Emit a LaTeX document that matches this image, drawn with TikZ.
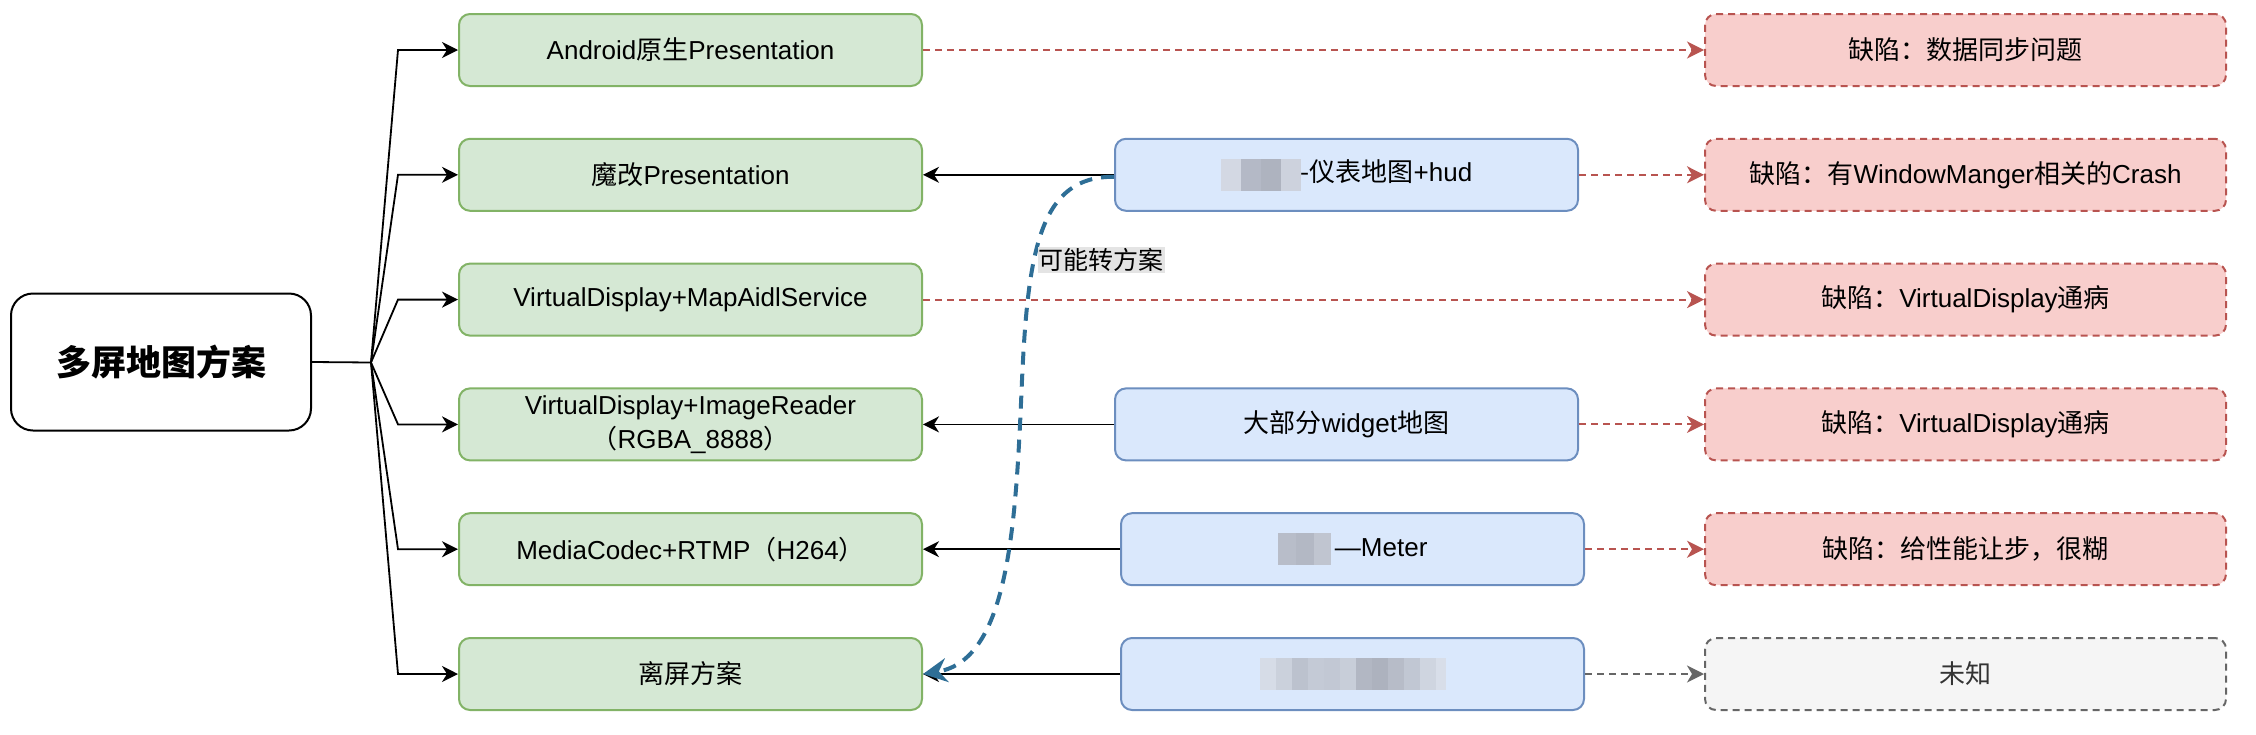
\documentclass[tikz,border=0pt]{standalone}
\usepackage{fontspec}
\setmainfont{Liberation Sans}
\newfontfamily\cjk{Noto Sans CJK SC}
\usetikzlibrary{arrows.meta}
\definecolor{gfill}{HTML}{D5E8D4}\definecolor{gdraw}{HTML}{82B366}
\definecolor{bfill}{HTML}{DAE8FC}\definecolor{bdraw}{HTML}{6C8EBF}
\definecolor{rfill}{HTML}{F8CECC}\definecolor{rdraw}{HTML}{B85450}
\definecolor{nfill}{HTML}{F5F5F5}\definecolor{ndraw}{HTML}{666666}
\definecolor{curvec}{HTML}{2E6E96}\definecolor{lblbg}{HTML}{E4E4E4}
\newcommand\mos[2]{\textcolor[HTML]{#1}{\rule[-9pt]{#2pt}{32pt}}}
\tikzset{
  box/.style={rectangle, rounded corners=11pt, line width=2pt, minimum height=72pt,
    align=center, font=\fontsize{26pt}{34pt}\selectfont, inner sep=0pt},
  gbox/.style={box, fill=gfill, draw=gdraw, minimum width=463pt},
  bbox/.style={box, fill=bfill, draw=bdraw, minimum width=463pt},
  rbox/.style={box, fill=rfill, draw=rdraw, dash pattern=on 7pt off 5pt, minimum width=521pt},
  nbox/.style={box, fill=nfill, draw=ndraw, dash pattern=on 7pt off 5pt, minimum width=521pt, text=black!80},
  rootbox/.style={rectangle, rounded corners=22pt, line width=2pt, draw=black, fill=white,
    minimum width=300pt, minimum height=137pt, font=\fontsize{35pt}{42pt}\selectfont},
  fan/.style={line width=1.8pt, -{Stealth[length=16pt,width=16pt,inset=5pt]}},
  solidarr/.style={line width=1.8pt, -{Stealth[length=16pt,width=16pt,inset=5pt]}},
  reddash/.style={line width=2pt, draw=rdraw, dash pattern=on 7pt off 5pt,
    -{Stealth[length=17pt,width=17pt,inset=5pt,fill=rdraw]}},
  greydash/.style={line width=2pt, draw=ndraw, dash pattern=on 7pt off 5pt,
    -{Stealth[length=17pt,width=17pt,inset=5pt,fill=ndraw]}},
  curve/.style={line width=4pt, draw=curvec, dash pattern=on 13pt off 9pt, line cap=butt,
    -{Stealth[length=24pt,width=24pt,inset=8pt,fill=curvec]}},
  lbl/.style={fill=lblbg, inner sep=1pt, font=\fontsize{25pt}{30pt}\selectfont}
}
\begin{document}
\begin{tikzpicture}[x=1pt,y=-1pt]
\useasboundingbox (0,0) rectangle (2256,734);
% root
\node[rootbox] (root) at (161,362) {\cjk\bfseries 多屏地图方案};
% green column
\node[gbox] (g1) at (690.5,50) {Android{\cjk 原生}Presentation};
\node[gbox] (g2) at (690.5,174.8) {{\cjk 魔改}Presentation};
\node[gbox] (g3) at (690.5,299.6) {VirtualDisplay+MapAidlService};
\node[gbox] (g4) at (690.5,424.4) {VirtualDisplay+ImageReader\\{\cjk （}RGBA\_8888{\cjk ）}};
\node[gbox] (g5) at (690.5,549.2) {MediaCodec+RTMP{\cjk （}H264{\cjk ）}};
\node[gbox] (g6) at (690.5,674) {{\cjk 离屏方案}};
% blue column
\node[bbox] (bA) at (1346.5,174.8) {\mos{D3D8E3}{20}\mos{B4B9C6}{20}\mos{AEB3BF}{20}\mos{CDD2DD}{20}{\cjk -仪表地图}+hud};
\node[bbox] (bB) at (1346.5,424.4) {{\cjk 大部分}widget{\cjk 地图}};
\node[bbox] (bC) at (1352.5,549.2) {\mos{B8BDC9}{18}\mos{B3B8C4}{18}\mos{C0C5D0}{17}\,—Meter};
\node[bbox] (bD) at (1352.5,674) {\mos{D6DCE7}{16}\mos{CBD1DC}{16}\mos{BCC2CE}{16}\mos{C4CAD6}{16}\mos{C2C8D4}{16}\mos{C8CED9}{16}\mos{B2B7C3}{16}\mos{ADB2BE}{16}\mos{B7BCC8}{16}\mos{C1C7D3}{16}\mos{CFD5E0}{16}\mos{D8DEE9}{10}};
% red column
\node[rbox] (r1) at (1965.5,50) {{\cjk 缺陷：数据同步问题}};
\node[rbox] (r2) at (1965.5,174.8) {{\cjk 缺陷：有}WindowManger{\cjk 相关的}Crash};
\node[rbox] (r3) at (1965.5,299.6) {{\cjk 缺陷：}VirtualDisplay{\cjk 通病}};
\node[rbox] (r4) at (1965.5,424.4) {{\cjk 缺陷：}VirtualDisplay{\cjk 通病}};
\node[rbox] (r5) at (1965.5,549.2) {{\cjk 缺陷：给性能让步，很糊}};
\node[nbox] (u) at (1965.5,674) {{\cjk 未知}};
% fan edges
\coordinate (j) at (371,362.5);
\coordinate (k) at (398,0);
\draw[line width=1.8pt] (root.east) -- (j);
\foreach \g in {g1,g2,g3,g4,g5,g6}{
  \draw[fan] (j) -- (k |- \g.west) -- (\g.west);
}
% blue to green
\draw[solidarr] (bA.west) -- (g2.east);
\draw[solidarr] (bB.west) -- (g4.east);
\draw[solidarr] (bC.west) -- (g5.east);
\draw[solidarr] (bD.west) -- (g6.east);
% dashed to defects
\draw[reddash] (g1.east) -- (r1.west);
\draw[reddash] (bA.east) -- (r2.west);
\draw[reddash] (g3.east) -- (r3.west);
\draw[reddash] (bB.east) -- (r4.west);
\draw[reddash] (bC.east) -- (r5.west);
\draw[greydash] (bD.east) -- (u.west);
% curved dashed
\draw[curve] ([yshift=-2pt]bA.west) .. controls (1040,176) and (1028,250) .. (1022,380)
   .. controls (1016,520) and (1010,660) .. (g6.east);
\node[lbl] (lab) at (1101,260) {\cjk 可能转方案};
\end{tikzpicture}
\end{document}
